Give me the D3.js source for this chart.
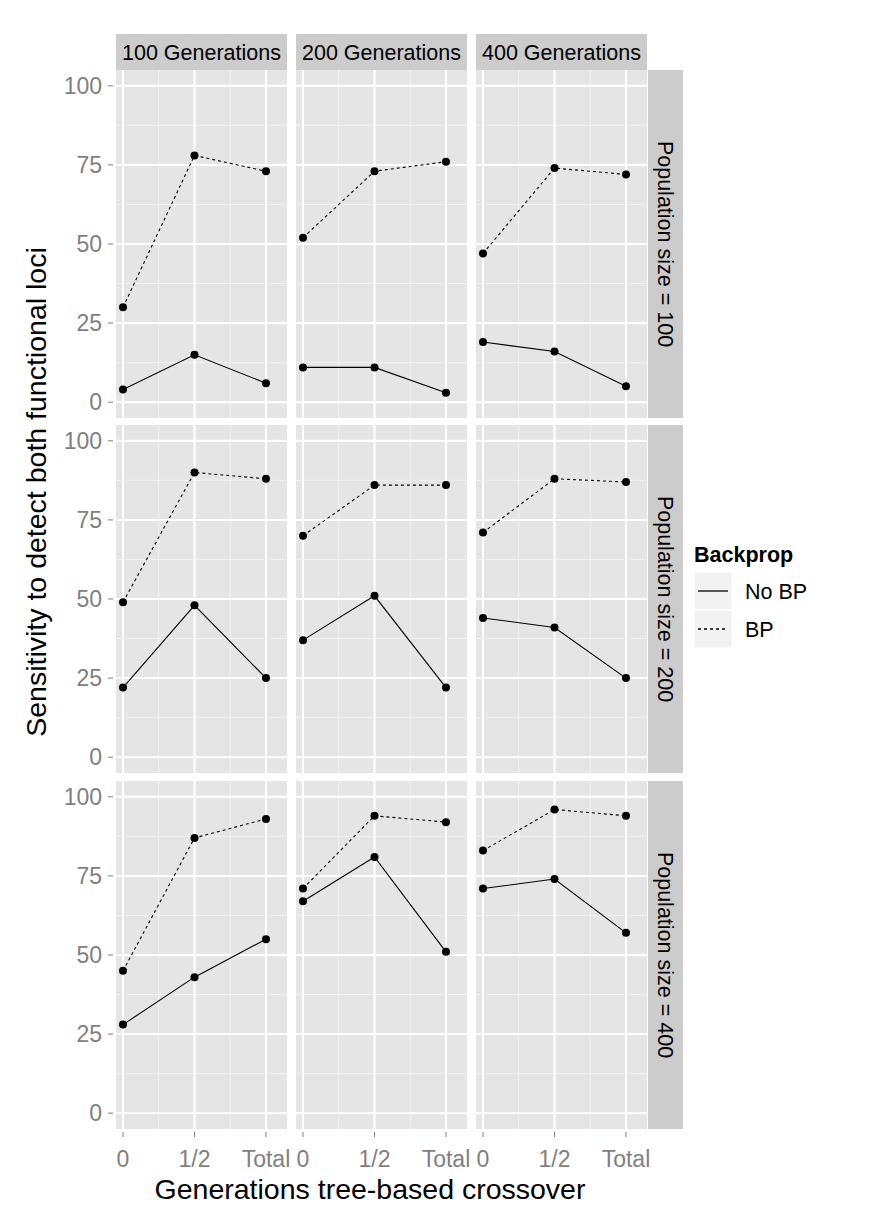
<!DOCTYPE html>
<html><head><meta charset="utf-8">
<script src="https://cdn.jsdelivr.net/npm/d3@7"></script>
<style>body{margin:0;background:#fff}text{font-family:Arial,"Liberation Sans",sans-serif}</style>
</head><body><svg id="c" width="875" height="1225"></svg>
<script>
var generations = ['100 Generations', '200 Generations', '400 Generations'],
	popSizes = ['Population size = 100', 'Population size = 200', 'Population size = 400'],
	xLabels = ['0', '1/2', 'Total'],
	xValues = [0, 0.5, 1],
	series = ['No BP', 'BP'];

// [row][col] values at 0, 1/2, Total
var noBP = [
	[[4, 15, 6], [11, 11, 3], [19, 16, 5]],
	[[22, 48, 25], [37, 51, 22], [44, 41, 25]],
	[[28, 43, 55], [67, 81, 51], [71, 74, 57]]
];
var bp = [
	[[30, 78, 73], [52, 73, 76], [47, 74, 72]],
	[[49, 90, 88], [70, 86, 86], [71, 88, 87]],
	[[45, 87, 93], [71, 94, 92], [83, 96, 94]]
];
var yTicks = [0, 25, 50, 75, 100];

var svg = d3.select('#c'),
	colX = [116, 296, 476], pw = 171,
	rowY = [70, 425, 781], ph = 348;

var x = d3.scaleLinear().domain([-0.049, 1.147]).range([0, pw]);
var y = d3.scaleLinear().domain([-5, 105]).range([ph, 0]);
var line = d3.line().x(function(d, i){ return x(xValues[i]); }).y(function(d){ return y(d); });

generations.forEach(function(g, c){
	var s = svg.append('g').attr('transform', 'translate(' + colX[c] + ',34)');
	s.append('rect').attr('width', pw).attr('height', 36).attr('fill', '#cccccc');
	s.append('text').attr('x', pw / 2).attr('y', 26).attr('text-anchor', 'middle')
		.attr('font-size', 21.5).text(g);
});

popSizes.forEach(function(p, r){
	var s = svg.append('g').attr('transform', 'translate(648,' + rowY[r] + ')');
	s.append('rect').attr('width', 35).attr('height', ph).attr('fill', '#cccccc');
	s.append('text').attr('transform', 'translate(10,' + ph / 2 + ') rotate(90)')
		.attr('text-anchor', 'middle').attr('font-size', 21.5).text(p);

	var ax = svg.append('g').attr('transform', 'translate(' + colX[0] + ',' + rowY[r] + ')');
	yTicks.forEach(function(t){
		ax.append('line').attr('x1', -8).attr('x2', -3).attr('y1', y(t)).attr('y2', y(t)).attr('stroke', '#7f7f7f');
		ax.append('text').attr('x', -14).attr('y', y(t) + 8).attr('text-anchor', 'end')
			.attr('font-size', 23).attr('fill', '#7f7f7f').text(t);
	});

	generations.forEach(function(g, c){
		var pg = svg.append('g').attr('transform', 'translate(' + colX[c] + ',' + rowY[r] + ')');
		pg.append('rect').attr('width', pw).attr('height', ph).attr('fill', '#e5e5e5');
		[12.5, 37.5, 62.5, 87.5].forEach(function(t){
			pg.append('line').attr('x1', 0).attr('x2', pw).attr('y1', y(t)).attr('y2', y(t)).attr('stroke', '#f2f2f2').attr('stroke-width', 1);
		});
		[0.25, 0.75].forEach(function(t){
			pg.append('line').attr('y1', 0).attr('y2', ph).attr('x1', x(t)).attr('x2', x(t)).attr('stroke', '#f2f2f2').attr('stroke-width', 1);
		});
		yTicks.forEach(function(t){
			pg.append('line').attr('x1', 0).attr('x2', pw).attr('y1', y(t)).attr('y2', y(t)).attr('stroke', '#fff').attr('stroke-width', 2);
		});
		xValues.forEach(function(t){
			pg.append('line').attr('y1', 0).attr('y2', ph).attr('x1', x(t)).attr('x2', x(t)).attr('stroke', '#fff').attr('stroke-width', 2);
		});
		[[noBP, null], [bp, '3,3']].forEach(function(sd){
			var vals = sd[0][r][c];
			pg.append('path').attr('d', line(vals)).attr('fill', 'none').attr('stroke', '#000')
				.attr('stroke-width', 1.1).attr('stroke-dasharray', sd[1]);
			pg.selectAll(null).data(vals).enter().append('circle')
				.attr('cx', function(d, i){ return x(xValues[i]); }).attr('cy', y).attr('r', 4).attr('fill', '#000');
		});
		if (r === 2){
			xValues.forEach(function(t, i){
				pg.append('line').attr('x1', x(t)).attr('x2', x(t)).attr('y1', ph + 3).attr('y2', ph + 8).attr('stroke', '#7f7f7f');
				pg.append('text').attr('x', x(t)).attr('y', ph + 38).attr('text-anchor', 'middle')
					.attr('font-size', 23).attr('fill', '#7f7f7f').text(xLabels[i]);
			});
		}
	});
});

svg.append('text').attr('x', 370).attr('y', 1199).attr('text-anchor', 'middle').attr('font-size', 28.5)
	.text('Generations tree-based crossover');
svg.append('text').attr('transform', 'translate(46,' + 492 + ') rotate(-90)').attr('text-anchor', 'middle')
	.attr('font-size', 28.5).text('Sensitivity to detect both functional loci');

var lg = svg.append('g').attr('transform', 'translate(694,538)');
lg.append('text').attr('x', 0).attr('y', 24).attr('font-size', 21.5).attr('font-weight', 'bold').text('Backprop');
series.forEach(function(s, i){
	var yy = 34 + i * 38;
	lg.append('rect').attr('x', 0).attr('y', yy).attr('width', 38).attr('height', 38).attr('fill', '#f2f2f2').attr('stroke', '#fff');
	lg.append('line').attr('x1', 4).attr('x2', 34).attr('y1', yy + 19).attr('y2', yy + 19).attr('stroke', '#000')
		.attr('stroke-width', 1.3).attr('stroke-dasharray', i ? '3,3' : null);
	lg.append('text').attr('x', 51).attr('y', yy + 27).attr('font-size', 21.5).text(s);
});
</script></body></html>
